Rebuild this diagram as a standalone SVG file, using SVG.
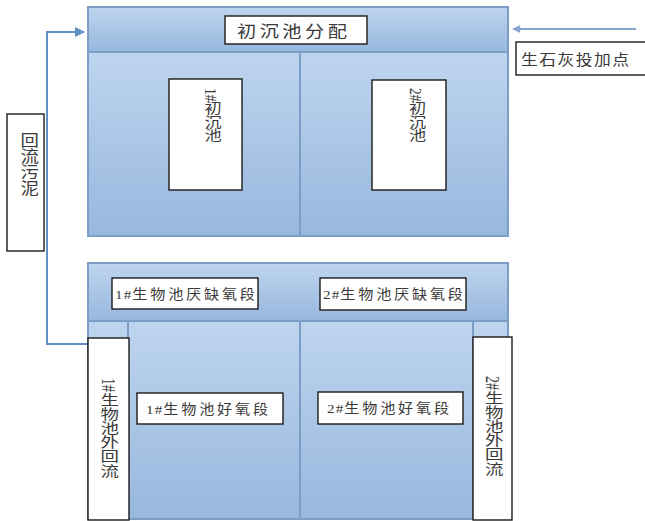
<svg xmlns="http://www.w3.org/2000/svg" width="645" height="521" viewBox="0 0 645 521">
  <style>
    .cell { fill: url(#tank); stroke: #7b9dc6; stroke-width: 2; }
    .box { fill: #ffffff; stroke: #1a1a1a; stroke-width: 1.4; }
    .lbl { font-family: "Liberation Serif", "Noto Sans CJK SC", serif; fill: #3a3a3a; }
    .h { font-size: 13.5px; letter-spacing: 2.5px; }
    .num { letter-spacing: 1px; }
    .v { writing-mode: vertical-rl; text-orientation: mixed; }
    .flow { fill: none; stroke: #5f8fc3; stroke-width: 2; }
    .lime { fill: none; stroke: #86a5cd; stroke-width: 2; }
  </style>
  <defs>
    <linearGradient id="tank" x1="0" y1="0" x2="0" y2="1">
      <stop offset="0" stop-color="#bed5ef"/>
      <stop offset="1" stop-color="#97b7dd"/>
    </linearGradient>
    <marker id="headBlue" viewBox="0 0 10 10" refX="9" refY="5" markerWidth="5" markerHeight="5" orient="auto">
      <path d="M0,0 L10,5 L0,10 z" fill="#5f8fc3"/>
    </marker>
    <marker id="headLime" viewBox="0 0 10 10" refX="9" refY="5" markerWidth="5" markerHeight="4" orient="auto">
      <path d="M0,0 L10,5 L0,10 z" fill="#86a5cd"/>
    </marker>
  </defs>

  <!-- primary clarifier block -->
  <g id="primary-clarifiers">
    <rect class="cell" x="88" y="7" width="420" height="45"/>
    <rect class="cell" x="88" y="52" width="212" height="184"/>
    <rect class="cell" x="300" y="52" width="208" height="184"/>
  </g>

  <!-- biological tank block -->
  <g id="bio-tanks">
    <rect class="cell" x="88" y="263" width="420" height="58"/>
    <rect class="cell" x="88" y="321" width="40" height="198"/>
    <rect class="cell" x="128" y="321" width="172" height="198"/>
    <rect class="cell" x="300" y="321" width="173" height="198"/>
    <rect class="cell" x="473" y="321" width="35" height="198"/>
  </g>

  <g id="connectors">
    <path class="flow" d="M88,344 H47 V32 H84" marker-end="url(#headBlue)"/>
    <path class="lime" d="M636,29 H513" marker-end="url(#headLime)"/>
  </g>

  <!-- labels use a wide aspect: glyphs are stretched horizontally -->
  <g id="distribution">
    <rect class="box" x="225" y="16" width="142" height="28"/>
    <text class="lbl" transform="translate(237,36.5) scale(1.2,1)" style="font-size:16px;letter-spacing:2.9px">初沉池分配</text>
  </g>

  <g id="clarifier-1">
    <rect class="box" x="169" y="79" width="73" height="111"/>
    <text class="lbl v" transform="translate(211.5,88) scale(1.27,1)" style="font-size:13.5px">1#初沉池</text>
  </g>

  <g id="clarifier-2">
    <rect class="box" x="372" y="80" width="74" height="110"/>
    <text class="lbl v" transform="translate(416,88) scale(1.27,1)" style="font-size:13.5px">2#初沉池</text>
  </g>

  <g id="return-sludge">
    <rect class="box" x="7" y="114" width="37" height="137"/>
    <text class="lbl v" transform="translate(27.5,132) scale(1.15,1)" style="font-size:16px">回流污泥</text>
  </g>

  <g id="lime-dosing">
    <rect class="box" x="516" y="42" width="135" height="33"/>
    <text class="lbl" transform="translate(521,64.5) scale(1.12,1)" style="font-size:15px;letter-spacing:1.3px">生石灰投加点</text>
  </g>

  <g id="anoxic-1">
    <rect class="box" x="112" y="278" width="146" height="31"/>
    <text class="lbl h" transform="translate(115,299) scale(1.12,1)"><tspan class="num">1#</tspan>生物池厌缺氧段</text>
  </g>

  <g id="anoxic-2">
    <rect class="box" x="320" y="278" width="146" height="32"/>
    <text class="lbl h" transform="translate(323,299) scale(1.12,1)"><tspan class="num">2#</tspan>生物池厌缺氧段</text>
  </g>

  <g id="aerobic-1">
    <rect class="box" x="137" y="393" width="146" height="31"/>
    <text class="lbl h" transform="translate(146,413.5) scale(1.12,1)"><tspan class="num">1#</tspan>生物池好氧段</text>
  </g>

  <g id="aerobic-2">
    <rect class="box" x="318" y="392" width="145" height="32"/>
    <text class="lbl h" transform="translate(327,413) scale(1.12,1)"><tspan class="num">2#</tspan>生物池好氧段</text>
  </g>

  <g id="external-return-1">
    <rect class="box" x="88" y="338" width="41" height="182"/>
    <text class="lbl v" transform="translate(108,378) scale(1.3,1)" style="font-size:14.2px">1#生物池外回流</text>
  </g>

  <g id="external-return-2">
    <rect class="box" x="473" y="337" width="39" height="183"/>
    <text class="lbl v" transform="translate(492.5,376) scale(1.3,1)" style="font-size:14.2px">2#生物池外回流</text>
  </g>
</svg>
